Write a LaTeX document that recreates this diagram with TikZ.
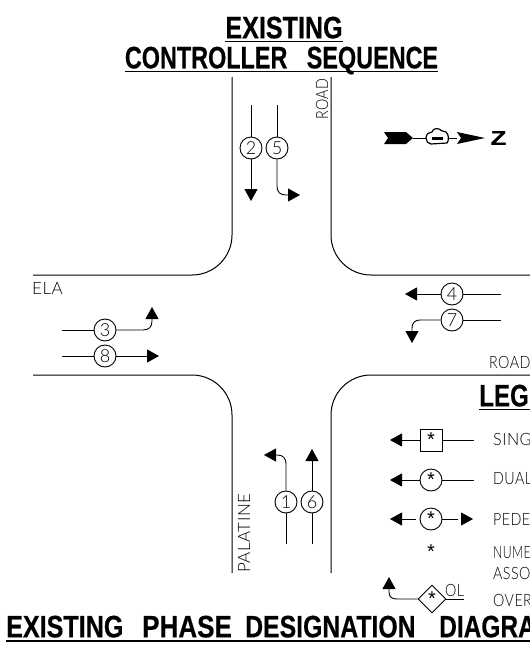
\documentclass[tikz,border=0pt]{standalone}
\usepackage{fontspec}
\setmainfont[BoldFeatures={FakeBold=0.5}]{Liberation Sans}
\newfontfamily\cadfont[LetterSpace=3]{Lato Light}
\usetikzlibrary{arrows.meta,shapes.geometric}
\tikzset{
    road/.style={line width=1pt,rounded corners=40pt},
    lane/.style={line width=0.9pt},
    phase/.style={draw,circle,line width=0.9pt,minimum size=22pt,inner sep=0pt,font=\cadfont\fontsize{18}{18}\selectfont},
    cad/.style={inner sep=0pt,font=\cadfont\fontsize{17}{17}\selectfont},
    heading/.style={inner sep=0pt,text depth=3pt,font=\bfseries\fontsize{31}{31}\selectfont},
    headrule/.style={line width=1.6pt},
}
\newcommand{\headtext}[2][0.81]{\scalebox{#1}[1]{#2}}
\newcommand{\headgap}{\hspace{17pt}}
\newcommand{\narrowtext}[2][0.84]{\scalebox{#1}[1]{#2}}
\newcommand{\starmark}{\raisebox{-4pt}{\fontsize{20}{20}\selectfont\rmfamily *}}
\begin{document}
\begin{tikzpicture}[>={Triangle[length=12pt,width=13pt]},x=1pt,y=-1pt]
        \useasboundingbox(0,0)rectangle(530,649);
        \clip(0,0)rectangle(530,649);
        % headings
        \node[heading](exist)at(284,29){\headtext{EXISTING}};
        \node[heading](ctrl)at(281.5,59){\headtext[0.755]{CONTROLLER\headgap\ SEQUENCE}};
        \node[heading,anchor=west](word1)at(6,628){\headtext{EXISTING}};
        \node[heading,anchor=west](word2)at(142,628){\headtext[0.84]{PHASE}};
        \node[heading,anchor=west](word3)at(245,628){\headtext[0.80]{DESIGNATION}};
        \node[heading,anchor=west](word4)at(439,628){\headtext[0.79]{DIAGRA}};
        \node[heading,anchor=west](legend)at(479,397){\headtext[0.78]{LEGE}};
        \coordinate(ruleend)at(530,641);
        \draw[headrule](exist.south west)--(exist.south east);
        \draw[headrule](ctrl.south west)--(ctrl.south east);
        \draw[headrule](word1.south west|-ruleend)--(ruleend);
        \draw[headrule](legend.south west)--(legend.south west-|ruleend);
        % road edges
        \draw[road](232,77)--(232,275)--(33,275);
        \draw[road](331,77)--(331,275)--(530,275);
        \draw[road](33,375)--(232,375)--(232,573);
        \draw[road](530,375)--(331,375)--(331,573);
        \node[cad,rotate=90,anchor=west](roadn)at(322,120){\narrowtext{ROAD}};
        \node[cad,anchor=west](roadw)at(32,288){ELA};
        \node[cad,rotate=90,anchor=west](palatine)at(244,573){PALATINE};
        \node[cad,anchor=west](roade)at(489,362){\narrowtext{ROAD}};
        % phases
        \node[phase](p2)at(251,148){2};
        \node[phase](p5)at(277,148){5};
        \node[phase](p3)at(105,330){3};
        \node[phase](p8)at(105,356){8};
        \node[phase](p4)at(452,294){4};
        \node[phase](p7)at(452,320){7};
        \node[phase](p1)at(286,502){1};
        \node[phase](p6)at(312,502){6};
        \coordinate(e2)at(251,105);
        \coordinate(e5)at(277,105);
        \coordinate(e3)at(62,330);
        \coordinate(e8)at(62,356);
        \coordinate(e4)at(501,294);
        \coordinate(e7)at(501,320);
        \coordinate(e1)at(286,544);
        \coordinate(e6)at(312,544);
        \draw[lane,->](p2)--(251,201);
        \draw[lane](e2)--(p2);
        \draw[lane](e5)--(p5);
        \draw[lane,->](p5.south)--(277,186)..controls(277,192)and(280,195)..(286,195)--(300,195);
        \draw[lane](e3)--(p3);
        \draw[lane,->](p3.east)--(143,330)..controls(149,330)and(152,327)..(152,321)--(152,307);
        \draw[lane](e8)--(p8);
        \draw[lane,->](p8)--(159,356);
        \draw[lane](e4)--(p4);
        \draw[lane,->](p4)--(405,294);
        \draw[lane](e7)--(p7);
        \draw[lane,->](p7.west)--(420,320)..controls(415,320)and(412,323)..(412,328)--(412,343);
        \draw[lane](e1)--(p1);
        \draw[lane,->](p1.north)--(286,464)..controls(286,458)and(283,455)..(277,455)--(264,455);
        \draw[lane](e6)--(p6);
        \draw[lane,->](p6)--(312,449);
        % north arrow
        \fill(384,132)--(406,132)--(413,138)--(406,144)--(384,144)--(388,138)--cycle;
        \draw[lane](413,138)--(426,138);
        \draw[line width=1.2pt](426,138)..controls(426,134)and(429,132)..(432,132)..controls(433,129)and(436,128)..(439,129)..controls(441,131)and(443,131)..(446,132)..controls(449,134)and(449,141)..(447,143)--(431,144)..controls(428,144)and(426,141)..(426,138)--cycle;
        \fill(432,136.5)rectangle(443,139.5);
        \draw[lane](449,138)--(457,138);
        \fill(457,132)--(485,138)--(457,144)--(461,138)--cycle;
        \node[inner sep=0pt,font=\bfseries\fontsize{20}{20}\selectfont](north)at(498.5,138){\scalebox{1.3}[1]{Z}};
        % legend
        \node[draw,lane,minimum size=22pt,inner sep=0pt](single)at(431,440){\starmark};
        \node[phase](dual)at(431,480){\starmark};
        \node[phase](ped)at(431,519){\starmark};
        \node[inner sep=0pt](numstar)at(431,552){\starmark};
        \node[draw,lane,diamond,aspect=1,minimum size=28pt,inner sep=0pt](over)at(432,599){\starmark};
        \coordinate(s1)at(474,440);
        \coordinate(s2)at(474,480);
        \draw[lane,<-](390,440)--(single);
        \draw[lane](single)--(s1);
        \draw[lane,<-](390,480)--(dual);
        \draw[lane](dual)--(s2);
        \draw[lane,<-](390,519)--(416,519);
        \draw[lane](ped)--(458,519);
        \draw[lane,->](461,519)--(473,519);
        \draw[lane,<-](389,577)--(389,592)..controls(389,597)and(392,599)..(397,599)--(over);
        \node[cad,anchor=base west](ol)at(445,596){\narrowtext{OL}};
        \draw[lane](ol.south west|-over)--(464,599);
        \node[cad,anchor=west](t1)at(493,439){\narrowtext[0.95]{SING}};
        \node[cad,anchor=west](t2)at(493,479){\narrowtext{DUAL}};
        \node[cad,anchor=west](t3)at(493,519){\narrowtext{PEDE}};
        \node[cad,anchor=west](t4)at(493,553){\narrowtext[0.72]{NUME}};
        \node[cad,anchor=west](t5)at(493,573){\narrowtext{ASSO}};
        \node[cad,anchor=west](t6)at(493,600){\narrowtext{OVER}};
\end{tikzpicture}
\end{document}
